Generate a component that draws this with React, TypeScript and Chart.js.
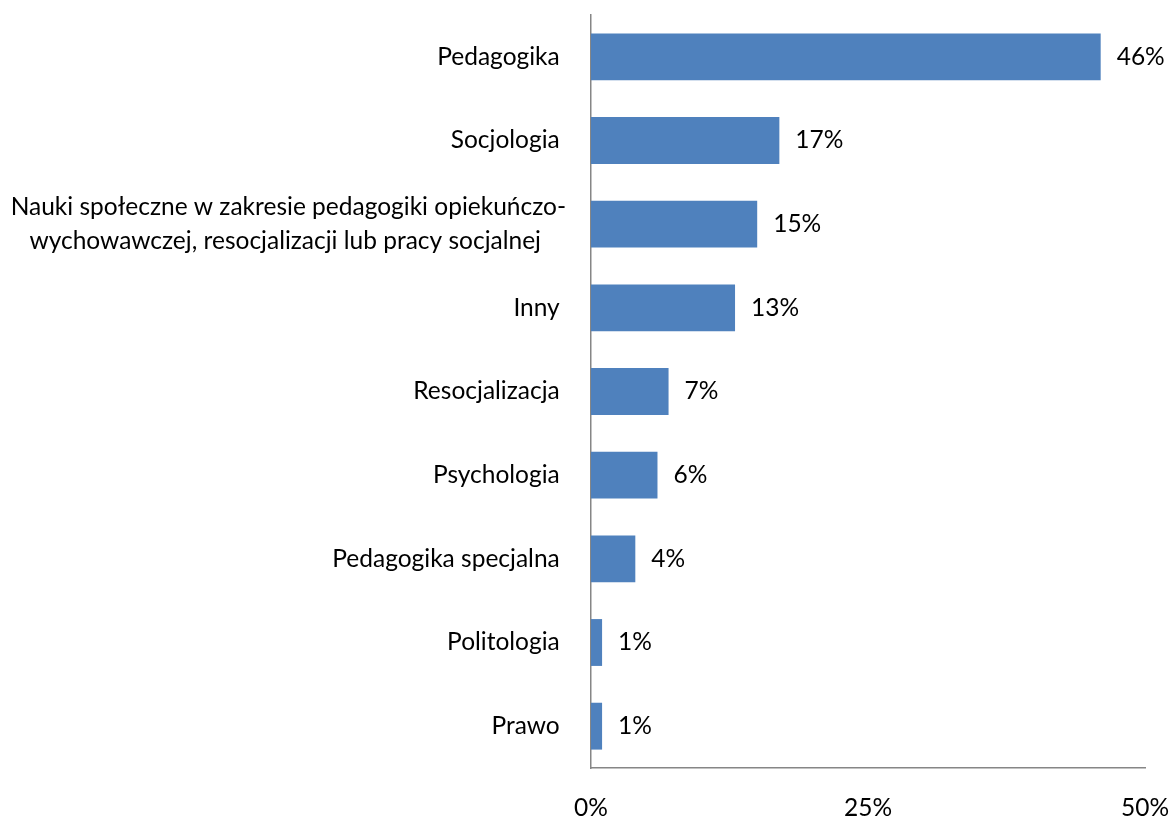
import React, { useEffect, useRef } from "react";
import { Chart, registerables } from "chart.js";

Chart.register(...registerables);

const categories: string[][] = [
  ["Pedagogika "],
  ["Socjologia "],
  ["Nauki społeczne w zakresie pedagogiki opiekuńczo-", "wychowawczej, resocjalizacji lub pracy socjalnej "],
  ["Inny "],
  ["Resocjalizacja "],
  ["Psychologia "],
  ["Pedagogika specjalna "],
  ["Politologia "],
  ["Prawo "],
];
const values: number[] = [46, 17, 15, 13, 7, 6, 4, 1, 1];
const xTicks: number[] = [0, 25, 50];

const FONT_FAMILY = "Lato, 'Open Sans', sans-serif";
const FONT_SIZE = 24.5;
const LINE_HEIGHT = 34;
const BAR_COLOR = "#4F81BD";
const AXIS_COLOR = "#868686";

const labelPlugin = {
  id: "customLabels",
  afterDraw(chart: any) {
    const ctx = chart.ctx;
    const yScale = chart.scales.y;
    const meta = chart.getDatasetMeta(0);
    ctx.save();
    ctx.font = `${FONT_SIZE}px ${FONT_FAMILY}`;
    ctx.fillStyle = "#000000";
    ctx.textBaseline = "middle";
    const rightEdge = chart.chartArea.left - 25;
    categories.forEach((lines, i) => {
      const yc = yScale.getPixelForTick(i);
      const widths = lines.map((l) => ctx.measureText(l).width);
      const bw = Math.max(...widths);
      const cx = rightEdge - bw / 2;
      ctx.textAlign = "center";
      lines.forEach((l, j) => {
        const y = yc + (j - (lines.length - 1) / 2) * LINE_HEIGHT;
        ctx.fillText(l, cx, y);
      });
    });
    ctx.textAlign = "left";
    meta.data.forEach((bar: any, i: number) => {
      ctx.fillText(`${values[i]}%`, bar.x + 16, bar.y);
    });
    ctx.restore();
  },
};

export default function App() {
  const ref = useRef<HTMLCanvasElement>(null);
  useEffect(() => {
    if (!ref.current) return;
    const chart = new Chart(ref.current, {
      type: "bar",
      data: {
        labels: categories.map((c) => c.join(" ")),
        datasets: [
          {
            data: values,
            backgroundColor: BAR_COLOR,
            borderWidth: 0,
            categoryPercentage: 1,
            barPercentage: 0.56,
          },
        ],
      },
      options: {
        indexAxis: "y",
        responsive: false,
        animation: false,
        layout: { padding: { top: 15, right: 29, left: 0, bottom: 0 } },
        plugins: { legend: { display: false }, tooltip: { enabled: false } },
        scales: {
          x: {
            type: "linear",
            min: 0,
            max: 50,
            afterBuildTicks(scale: any) {
              scale.ticks = xTicks.map((v) => ({ value: v }));
            },
            afterFit(scale: any) {
              scale.height = 53;
              scale.paddingLeft = 0;
              scale.paddingRight = 0;
            },
            ticks: {
              padding: 25,
              maxRotation: 0,
              color: "#000000",
              font: { family: FONT_FAMILY, size: FONT_SIZE },
              callback: (v: any) => `${v}%`,
            },
            grid: { display: false, drawTicks: false },
            border: { display: true, color: AXIS_COLOR, width: 1.5 },
          },
          y: {
            type: "category",
            afterFit(scale: any) {
              scale.width = 591;
              scale.paddingTop = 0;
              scale.paddingBottom = 0;
            },
            ticks: { display: false },
            grid: { display: false, drawTicks: false },
            border: { display: true, color: AXIS_COLOR, width: 1.5 },
          },
        },
      },
      plugins: [labelPlugin],
    });
    return () => chart.destroy();
  }, []);
  return (
    <div style={{ position: "absolute", left: 0, top: 0, width: 1174, height: 821, background: "#fff" }}>
      <canvas ref={ref} width={1174} height={821} />
    </div>
  );
}
